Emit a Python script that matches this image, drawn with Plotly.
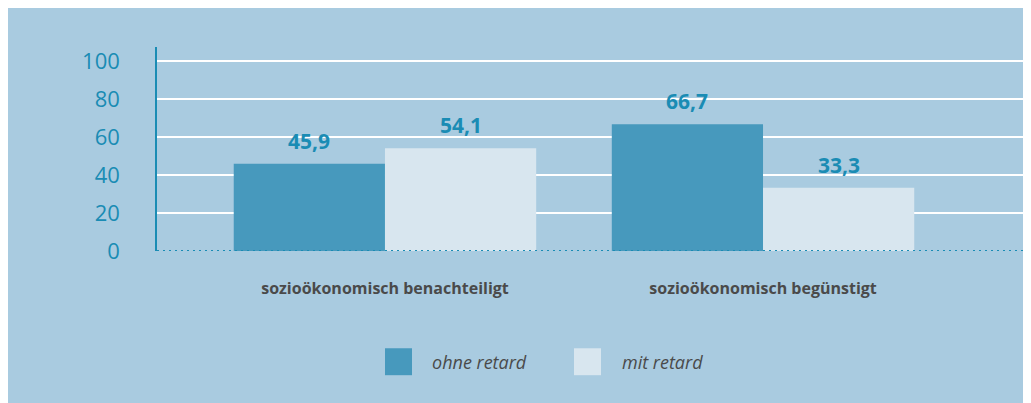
import plotly.graph_objects as go

categories = ["sozioökonomisch benachteiligt", "sozioökonomisch begünstigt"]
series_names = ["ohne retard", "mit retard"]
ohne_retard = [45.9, 66.7]
mit_retard = [54.1, 33.3]
y_ticks = [0, 20, 40, 60, 80, 100]

BG = "#a9cbe0"
DARK = "#4799bd"
LIGHT = "#d8e6ef"
TEAL = "#1a8cb4"
GREY = "#4a4a4a"
FONT = "Open Sans"

W, H = 1031, 403
OFF = 8  # page body margin
ML, MR, MT, MB = 157 - OFF, 0, 47 - OFF, H - (251.5 - OFF)
PW, PH = W - ML - MR, H - MT - MB


def px(x):
    return (x - OFF - ML) / PW


def py(y):
    return (H - MB - (y - OFF)) / PH


fig = go.Figure()
xs = list(range(len(categories)))
for name, vals, col in [(series_names[0], ohne_retard, DARK), (series_names[1], mit_retard, LIGHT)]:
    fig.add_trace(go.Bar(x=xs, y=vals, name=name, marker=dict(color=col, line=dict(width=0)),
                         showlegend=False))

bargap = 0.2
bw = (1 - bargap) / 2
annotations = []
for i, (a, b) in enumerate(zip(ohne_retard, mit_retard)):
    for off, v in [(-bw / 2, a), (bw / 2, b)]:
        annotations.append(dict(x=i + off, y=v, xref="x", yref="y", text=f"<b>{v:.1f}</b>".replace(".", ","),
                                showarrow=False, yanchor="bottom", yshift=7,
                                font=dict(family=FONT, size=21, color=TEAL)))

# manual legend
leg = [(385, 430, series_names[0], DARK), (574, 620, series_names[1], LIGHT)]
shapes = [
    dict(type="line", xref="paper", yref="y", x0=0, x1=1, y0=0, y1=0,
         line=dict(color=TEAL, width=2, dash="2px,4px"), layer="above"),
]
for sx, tx, name, col in leg:
    shapes.append(dict(type="rect", xref="paper", yref="paper", x0=px(sx), x1=px(sx + 27),
                       y0=py(349), y1=py(376), fillcolor=col, line=dict(width=0)))
    annotations.append(dict(x=px(tx), y=py(362.5), xref="paper", yref="paper", text=f"<i>{name}</i>",
                            showarrow=False, xanchor="left", yanchor="middle",
                            font=dict(family=FONT, size=18, color=GREY)))

fig.update_layout(
    width=W, height=H,
    margin=dict(l=ML, r=MR, t=MT, b=MB, pad=0),
    paper_bgcolor=BG, plot_bgcolor=BG,
    barmode="group", bargap=bargap, bargroupgap=0,
    showlegend=False,
    shapes=shapes, annotations=annotations,
    xaxis=dict(range=[-0.603, 1.730], tickmode="array", tickvals=xs,
               ticktext=[f"<b>{c}</b>" for c in categories],
               tickfont=dict(family=FONT, size=16, color=GREY),
               showgrid=False, zeroline=False, showline=False, ticks="",
               ticklabelstandoff=26, fixedrange=True),
    yaxis=dict(range=[0, 107.3], tickmode="array", tickvals=y_ticks,
               ticktext=[str(t) for t in y_ticks],
               tickfont=dict(family=FONT, size=22, color=TEAL),
               showgrid=True, gridcolor="white", gridwidth=1.5,
               zeroline=False, showline=True, linecolor=TEAL, linewidth=1.5,
               ticks="", ticklabelstandoff=31, fixedrange=True),
)

fig.write_html("out.html")
